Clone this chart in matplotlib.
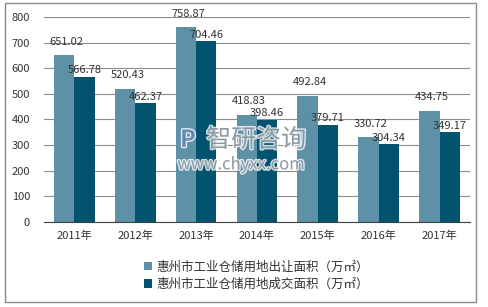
import numpy as np
import matplotlib
matplotlib.use("Agg")
import matplotlib.pyplot as plt
import matplotlib.patheffects as pe
from matplotlib.patches import Rectangle

plt.rcParams['font.family'] = ['Noto Sans CJK SC', 'DejaVu Sans']

years = ["2011年", "2012年", "2013年", "2014年", "2015年", "2016年", "2017年"]
supply = [651.02, 520.43, 758.87, 418.83, 492.84, 330.72, 434.75]
deal = [566.78, 462.37, 704.46, 398.46, 379.71, 304.34, 349.17]
labels = ["惠州市工业仓储用地出让面积（万㎡）", "惠州市工业仓储用地成交面积（万㎡）"]

c_light = "#5d91a8"
c_dark = "#02536f"

fig = plt.figure(figsize=(4.88, 3.07), dpi=100)
ax = fig.add_axes([0.09, 0.277, 0.873, 0.668])

x = np.arange(len(years))
w = 0.335
b1 = ax.bar(x - w / 2, supply, w, color=c_light, label=labels[0], zorder=2)
b2 = ax.bar(x + w / 2, deal, w, color=c_dark, label=labels[1], zorder=2)

for rect, v in zip(b1, supply):
    ax.annotate(f"{v:.2f}", (rect.get_x() + rect.get_width() / 2 + 0.04, v),
                xytext=(0, 6), textcoords="offset points",
                ha="center", va="bottom", fontsize=8, color="#333333", zorder=5)
for rect, v in zip(b2, deal):
    ax.annotate(f"{v:.2f}", (rect.get_x() + rect.get_width() / 2, v),
                xytext=(0, 1), textcoords="offset points",
                ha="center", va="bottom", fontsize=8, color="#333333", zorder=5)

ax.set_xlim(-0.5, len(years) - 0.5)
ax.set_ylim(0, 800)
ax.set_yticks(range(0, 801, 100))
ax.set_xticks(x)
ax.set_xticklabels(years)
ax.yaxis.grid(True, color="#8c8c8c", linewidth=0.8, zorder=0)
ax.set_axisbelow(True)
for s in ["left", "right", "top"]:
    ax.spines[s].set_visible(False)
ax.spines["bottom"].set_color("#404040")
ax.tick_params(axis="both", length=0, labelsize=8, colors="#333333")
ax.tick_params(axis="x", pad=6)
ax.tick_params(axis="y", pad=10)

# watermark
halo = [pe.withStroke(linewidth=2, foreground="white", alpha=0.8)]
fig.text(0.385, 0.544, "P", fontsize=17, fontweight="bold", color="#4a78a8",
         alpha=0.75, ha="center", va="center", zorder=3, path_effects=halo)
fig.text(0.525, 0.544, "智研咨询", fontsize=18, color="#6f7f8c", alpha=0.75,
         ha="center", va="center", zorder=3, path_effects=halo)
fig.text(0.494, 0.463, "www.chyxx.com", fontsize=12, color="#6f7f8c", alpha=0.75,
         ha="center", va="center", zorder=3, path_effects=halo)

fig.legend(handles=[b1, b2], labels=labels, loc="center",
           bbox_to_anchor=(0.525, 0.102), ncol=1, frameon=False, fontsize=9,
           handlelength=0.7, handleheight=0.7, handletextpad=0.3,
           labelspacing=0.35, labelcolor="#333333")

fig.patches.append(Rectangle((0.01, 0.016), 0.965, 0.975, transform=fig.transFigure,
                             fill=False, edgecolor="#8c8c8c", linewidth=1))

fig.savefig("out.png", dpi=100)
